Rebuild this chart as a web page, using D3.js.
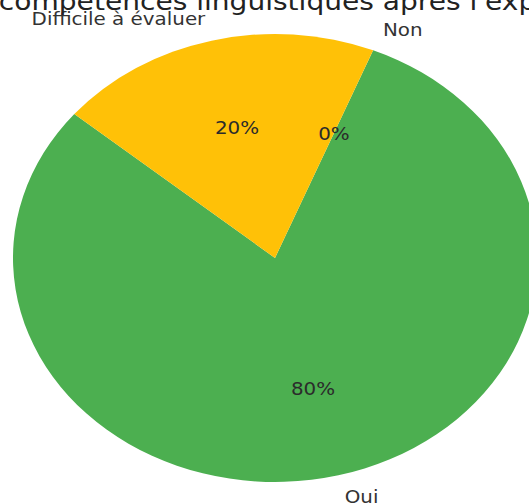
<!DOCTYPE html>
<html>
<head>
<meta charset="utf-8">
<script src="https://cdn.jsdelivr.net/npm/d3@7"></script>
<style>
  html, body { margin: 0; padding: 0; background: #fff; overflow: hidden; }
  svg { display: block; font-family: "DejaVu Sans", sans-serif; }
</style>
</head>
<body>
<svg></svg>
<script>
const labels = ["Oui", "Non", "Difficile à évaluer"];
const values = [80, 0, 20];
const colors = ["#4CAF50", "#F44336", "#FFC107"];
const titleHidden = "Amélioration des ";
const titleShown = "compétences linguistiques après l'expérience";

const width = 529;
const height = 504;

// picture is stretched: pie is an ellipse
const cx = 275, cy = 258;
const rx = 262, ry = 224;
const R = 100;
const sx = rx / R, sy = ry / R;
const textStretch = rx / ry;

const svg = d3.select("svg")
  .attr("width", width)
  .attr("height", height);

// matplotlib startangle 140, counterclockwise
const start = (90 - 140) * Math.PI / 180;
const pie = d3.pie()
  .sort(null)
  .startAngle(start)
  .endAngle(start - 2 * Math.PI)
  .value(d => d);

const arcs = pie(values);

const arc = d3.arc().innerRadius(0).outerRadius(R);

const pieGroup = svg.append("g")
  .attr("transform", `translate(${cx},${cy}) scale(${sx},${sy})`);

pieGroup.selectAll("path")
  .data(arcs)
  .enter().append("path")
  .attr("d", arc)
  .attr("fill", (d, i) => colors[i]);

function pos(d, dist) {
  const a = (d.startAngle + d.endAngle) / 2;
  return [cx + Math.sin(a) * dist * R * sx, cy - Math.cos(a) * dist * R * sy, Math.sin(a)];
}

// outer labels
svg.selectAll(".label")
  .data(arcs)
  .enter().append("text")
  .attr("class", "label")
  .attr("transform", d => {
    const p = pos(d, 1.1);
    return `translate(${p[0]},${p[1]}) scale(${textStretch},1)`;
  })
  .attr("text-anchor", d => pos(d, 1.1)[2] > 0 ? "start" : "end")
  .attr("dy", "0.36em")
  .attr("font-size", 17)
  .attr("fill", "#333")
  .text((d, i) => labels[i]);

// percentages
const total = d3.sum(values);
svg.selectAll(".pct")
  .data(arcs)
  .enter().append("text")
  .attr("class", "pct")
  .attr("transform", d => {
    const p = pos(d, 0.6);
    return `translate(${p[0]},${p[1]}) scale(${textStretch},1)`;
  })
  .attr("text-anchor", "middle")
  .attr("dy", "0.36em")
  .attr("font-size", 17)
  .attr("fill", "#2b2b2b")
  .text(d => Math.round(d.data / total * 100) + "%");

// title, only its lower part fits in the picture
const title = svg.append("text")
  .attr("font-size", 24)
  .attr("fill", "#222");
const pre = title.append("tspan").text(titleHidden);
const preLen = pre.node().getComputedTextLength();
title.append("tspan").text(titleShown);
title.attr("transform", `translate(-10,10) scale(${textStretch},1)`)
  .attr("x", -preLen);
</script>
</body>
</html>
